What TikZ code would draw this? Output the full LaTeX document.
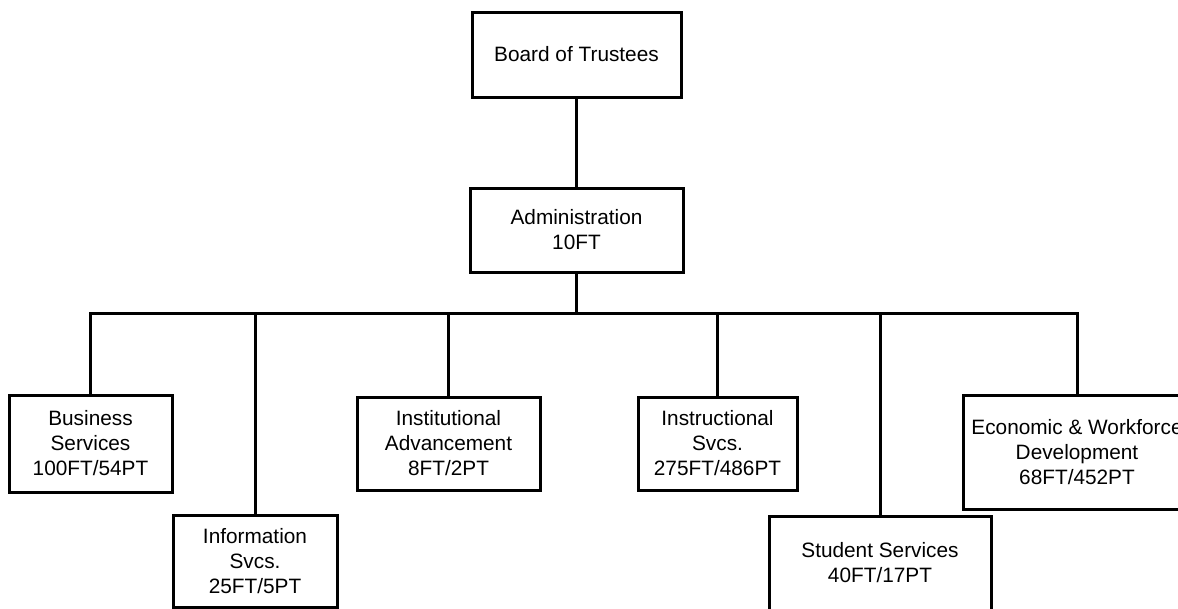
\documentclass[tikz,border=0pt]{standalone}
\usepackage{fontspec}
\setmainfont{Liberation Sans}
\begin{document}
\begin{tikzpicture}[x=1pt,y=-1pt,
  box/.style={draw=black, line width=3pt, align=center, inner sep=0pt,
    font=\fontsize{20.8}{25}\selectfont},
  conn/.style={draw=black, line width=3pt}]
\useasboundingbox (0,0) rectangle (1178,608);
\node[box, minimum width=209pt, minimum height=85pt] (board) at (576.5,54.5) {Board of Trustees};
\node[box, minimum width=213pt, minimum height=84pt] (admin) at (576.5,230) {Administration\\10FT};
\coordinate (bus) at (576.5,313);
\node[box, minimum width=163pt, minimum height=97pt] (biz) at (90.5,443.5) {Business\\Services\\100FT/54PT};
\node[box, minimum width=164pt, minimum height=92pt] (info) at (255,561) {Information\\Svcs.\\25FT/5PT};
\node[box, minimum width=183pt, minimum height=93pt] (inst) at (448.5,443.5) {Institutional\\Advancement\\8FT/2PT};
\node[box, minimum width=159pt, minimum height=93pt] (instr) at (717.5,443.5) {Instructional\\Svcs.\\275FT/486PT};
\node[box, minimum width=222pt, minimum height=94pt] (stud) at (880,563) {Student Services\\40FT/17PT};
\node[box, minimum width=228pt, minimum height=114pt] (econ) at (1077,452) {Economic \& Workforce\\Development\\68FT/452PT};
\draw[conn] (board.south) -- (admin.north);
\draw[conn] (admin.south) -- (bus);
\foreach \n in {biz,info,inst,instr,stud,econ}{
  \draw[conn] (bus) -| (\n.north);
}
\end{tikzpicture}
\end{document}
